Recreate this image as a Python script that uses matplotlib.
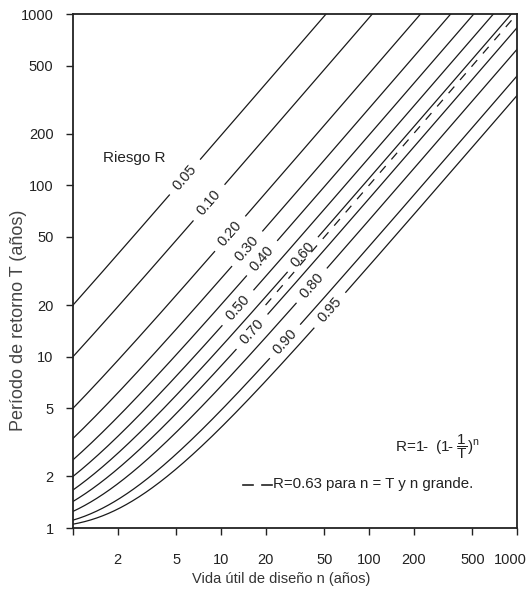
import numpy as np
import matplotlib
matplotlib.use("Agg")
import matplotlib.pyplot as plt
from matplotlib.ticker import FixedLocator, FixedFormatter, NullLocator
from matplotlib.transforms import ScaledTranslation

FONT = ['Liberation Sans', 'DejaVu Sans']
plt.rcParams['font.family'] = FONT
plt.rcParams['mathtext.fontset'] = 'custom'
plt.rcParams['mathtext.rm'] = 'Liberation Sans'
plt.rcParams['mathtext.it'] = 'Liberation Sans'

# Data
risk_levels = [0.05, 0.10, 0.20, 0.30, 0.40, 0.50, 0.60, 0.70, 0.80, 0.90, 0.95]
risk_labels = ['0.05', '0.10', '0.20', '0.30', '0.40', '0.50', '0.60', '0.70', '0.80', '0.90', '0.95']
label_n = [5.7, 8.3, 11.5, 15.0, 18.9, 13.0, 35.8, 16.2, 41.0, 27.0, 54.5]
dashed_n = [20, 1000]          # R = 0.63 line, T = n
x_ticks = [1, 2, 5, 10, 20, 50, 100, 200, 500, 1000]
x_tick_labels = ['', '2', '5', '10', '20', '50', '100', '200', '500', '1000']
y_ticks = [1, 2, 5, 10, 20, 50, 100, 200, 500, 1000]
y_tick_labels = ['1', '2', '5', '10', '20', '50', '100', '200', '500', '1000']

fig = plt.figure(figsize=(5.30, 5.99), dpi=100)
ax = fig.add_axes([73/530, 1-528/599, (517-73)/530, (528-14)/599])
ax.set_xscale('log')
ax.set_yscale('log')
ax.set_xlim(1, 1000)
ax.set_ylim(1, 1000)

def period(R, n):
    return 1.0 / (1.0 - (1.0 - R) ** (1.0 / n))

n_grid = np.logspace(0, 3, 600)
gap = 1.27
lc = '#1a1a1a'
for R, lab, nl in zip(risk_levels, risk_labels, label_n):
    T = period(R, n_grid)
    m1 = n_grid <= nl / gap
    m2 = n_grid >= nl * gap
    ax.plot(n_grid[m1], T[m1], color=lc, lw=0.9)
    ax.plot(n_grid[m2], T[m2], color=lc, lw=0.9)
    p1 = ax.transData.transform((nl / 1.1, period(R, nl / 1.1)))
    p2 = ax.transData.transform((nl * 1.1, period(R, nl * 1.1)))
    ang = np.degrees(np.arctan2(p2[1] - p1[1], p2[0] - p1[0]))
    ax.text(nl, period(R, nl), lab, rotation=ang, rotation_mode='anchor',
            ha='center', va='center', fontsize=10.5, color='#222222')

ax.plot(dashed_n, dashed_n, color=lc, lw=0.9, dashes=(7, 7))

ax.xaxis.set_major_locator(FixedLocator(x_ticks))
ax.xaxis.set_major_formatter(FixedFormatter(x_tick_labels))
ax.yaxis.set_major_locator(FixedLocator(y_ticks))
ax.yaxis.set_major_formatter(FixedFormatter(y_tick_labels))
ax.xaxis.set_minor_locator(NullLocator())
ax.yaxis.set_minor_locator(NullLocator())
ax.tick_params(axis='both', direction='out', length=5, width=1.0, labelsize=10.5, colors='#222222')
ax.tick_params(axis='y', pad=9)
ax.tick_params(axis='x', pad=13)
for s in ax.spines.values():
    s.set_linewidth(1.3)
    s.set_color('#222222')

last = ax.xaxis.get_major_ticks()[-1]
last.label1.set_transform(last.label1.get_transform() + ScaledTranslation(-7/100, 0, fig.dpi_scale_trans))

ax.set_xlabel('Vida útil de diseño n (años)', fontsize=10.5, color='#333333')
ax.xaxis.set_label_coords(0.468, -0.086)
ax.set_ylabel('Período de retorno T (años)', fontsize=13, color='#444444')
ax.yaxis.set_label_coords(-0.104, 0.405)

ax.text(103/530, 1-158/599, 'Riesgo R', transform=fig.transFigure, fontsize=11,
        ha='left', va='center', color='#222222')
ax.text(395/530, 1-447/599, r'$\mathrm{R\!=\!1\!\text{-}\ \ (1\!\text{-}\ \dfrac{1}{T})^{n}}$',
        transform=fig.transFigure, fontsize=11, ha='left', va='center', color='#222222')
fig.add_artist(plt.Line2D([243/530, 253/530], [1-485/599, 1-485/599], color='#222222', lw=1.2))
fig.add_artist(plt.Line2D([262/530, 272/530], [1-485/599, 1-485/599], color='#222222', lw=1.2))
ax.text(273/530, 1-484/599, 'R=0.63 para n = T y n grande.', transform=fig.transFigure,
        fontsize=10.8, ha='left', va='center', color='#222222')

fig.savefig('out.png', dpi=100)
